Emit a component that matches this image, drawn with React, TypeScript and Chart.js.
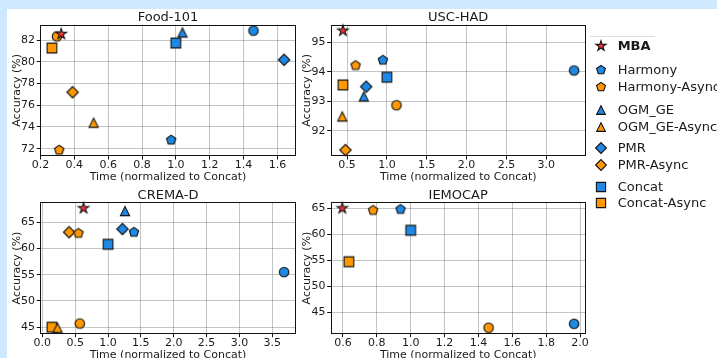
import React, { useEffect, useRef } from "react";
import { Chart, registerables } from "chart.js";

Chart.register(...registerables);

const FONT = "'DejaVu Sans', 'Liberation Sans', sans-serif";
const TEXT = "#1a1a1a";

// ---- methods (order = draw priority, first on top) ----
const methodNames = [
  "MBA",
  "Harmony",
  "Harmony-Async",
  "OGM_GE",
  "OGM_GE-Async",
  "PMR",
  "PMR-Async",
  "Concat",
  "Concat-Async",
  "Baseline",
  "Baseline-Async",
];
const methodShapes = ["star", "pentagon", "pentagon", "triangle", "triangle", "diamond", "diamond", "square", "square", "circle", "circle"];
const BLUE = "#1e88e5";
const ORANGE = "#ff9800";
const RED = "#f0363b";
const methodColors = [RED, BLUE, ORANGE, BLUE, ORANGE, BLUE, ORANGE, BLUE, ORANGE, BLUE, ORANGE];
const legendCount = 9; // first nine appear in the legend

// ---- panel titles ----
const panelTitles = ["Food-101", "USC-HAD", "CREMA-D", "IEMOCAP"];

// ---- Food-101 ----
const food101Time = [0.323, 0.972, 0.311, 1.039, 0.514, 1.639, 0.39, 1.0, 0.268, 1.458, 0.298];
const food101Acc = [82.55, 72.8, 71.88, 82.7, 74.4, 80.18, 77.2, 81.72, 81.26, 82.86, 82.33];
const food101XTicks = [0.2, 0.4, 0.6, 0.8, 1.0, 1.2, 1.4, 1.6];
const food101YTicks = [72, 74, 76, 78, 80, 82];

// ---- USC-HAD ----
const uscTime = [0.448, 0.95, 0.607, 0.71, 0.44, 0.74, 0.48, 1.0, 0.448, 3.35, 1.12];
const uscAcc = [95.4, 94.4, 94.22, 93.17, 92.49, 93.5, 91.35, 93.82, 93.56, 94.05, 92.87];
const uscXTicks = [0.5, 1.0, 1.5, 2.0, 2.5, 3.0];
const uscYTicks = [92, 93, 94, 95];

// ---- CREMA-D ----
const cremaTime = [0.627, 1.395, 0.55, 1.258, 0.232, 1.22, 0.408, 1.0, 0.146, 3.68, 0.57];
const cremaAcc = [67.66, 63.1, 62.9, 67.14, 44.9, 63.7, 63.1, 60.8, 45.0, 55.5, 45.7];
const cremaXTicks = [0.0, 0.5, 1.0, 1.5, 2.0, 2.5, 3.0, 3.5];
const cremaYTicks = [45, 50, 55, 60, 65];

// ---- IEMOCAP ----
const iemoTime = [0.596, 0.94, 0.778, null, null, null, null, 1.0, 0.635, 1.965, 1.46];
const iemoAcc = [65.0, 64.8, 64.6, null, null, null, null, 60.77, 54.73, 42.8, 42.04];
const iemoXTicks = [0.6, 0.8, 1.0, 1.2, 1.4, 1.6, 1.8, 2.0];
const iemoYTicks = [45, 50, 55, 60, 65];

const xTitle = "Time (normalized to Concat)";
const yTitle = "Accuracy (%)";

// ---- layout (root coordinates) ----
const panelLayouts = [
  { left: 0, top: 0, w: 300, h: 175, yAxisW: 33.3, titleTop: 1.4, chartBottom: 147, padRight: 11.3 },
  { left: 290, top: 0, w: 300, h: 175, yAxisW: 33.7, titleTop: 1.4, chartBottom: 147, padRight: 11.3 },
  { left: 0, top: 179, w: 300, h: 174, yAxisW: 33.3, titleTop: 0, chartBottom: 145.7, padRight: 11.3 },
  { left: 290, top: 179, w: 300, h: 174, yAxisW: 33.7, titleTop: 0, chartBottom: 145.7, padRight: 11.3 },
];
const legendY = [37, 61, 77.7, 101, 118.3, 139.3, 156, 177.7, 194.3];
const legendMarkerX = 593.7;
const legendTextX = 610.7;

type Shape = string;

function traceShape(ctx: CanvasRenderingContext2D, shape: Shape, cx: number, cy: number, k: number) {
  ctx.beginPath();
  if (shape === "circle") {
    ctx.arc(cx, cy, 4.75 * k, 0, Math.PI * 2);
  } else if (shape === "square") {
    const h = 4.85 * k;
    ctx.rect(cx - h, cy - h, 2 * h, 2 * h);
  } else if (shape === "diamond") {
    const h = 5.7 * k;
    ctx.moveTo(cx, cy - h);
    ctx.lineTo(cx + h, cy);
    ctx.lineTo(cx, cy + h);
    ctx.lineTo(cx - h, cy);
    ctx.closePath();
  } else if (shape === "triangle") {
    const h = 4.6 * k;
    ctx.moveTo(cx, cy - h);
    ctx.lineTo(cx + h, cy + h);
    ctx.lineTo(cx - h, cy + h);
    ctx.closePath();
  } else if (shape === "pentagon") {
    const R = 4.9 * k;
    for (let i = 0; i < 5; i++) {
      const a = -Math.PI / 2 + (i * 2 * Math.PI) / 5;
      const px = cx + R * Math.cos(a);
      const py = cy + R * Math.sin(a);
      if (i === 0) ctx.moveTo(px, py);
      else ctx.lineTo(px, py);
    }
    ctx.closePath();
  } else if (shape === "star") {
    const R = 5.6 * k;
    const r = R * 0.381966;
    for (let i = 0; i < 10; i++) {
      const a = -Math.PI / 2 + (i * Math.PI) / 5;
      const rr = i % 2 === 0 ? R : r;
      const px = cx + rr * Math.cos(a);
      const py = cy + rr * Math.sin(a);
      if (i === 0) ctx.moveTo(px, py);
      else ctx.lineTo(px, py);
    }
    ctx.closePath();
  }
}

function paintMarker(canvas: HTMLCanvasElement, shape: Shape, fill: string, k: number) {
  const ctx = canvas.getContext("2d")!;
  ctx.clearRect(0, 0, canvas.width, canvas.height);
  traceShape(ctx, shape, canvas.width / 2, canvas.height / 2, k);
  ctx.fillStyle = fill;
  ctx.fill();
  ctx.lineWidth = 1.1;
  ctx.lineJoin = "miter";
  ctx.strokeStyle = "#111";
  ctx.stroke();
}

function makeMarker(shape: Shape, fill: string, k: number) {
  const c = document.createElement("canvas");
  c.width = 16;
  c.height = 16;
  paintMarker(c, shape, fill, k);
  return c;
}

function paddedRange(vals: (number | null)[]) {
  const v = vals.filter((a) => a !== null) as number[];
  const lo = Math.min(...v);
  const hi = Math.max(...v);
  const m = (hi - lo) * 0.05;
  return [lo - m, hi + m];
}

const framePlugin = {
  id: "frame",
  afterDraw(chart: any) {
    const { ctx, chartArea: a } = chart;
    ctx.save();
    ctx.strokeStyle = "#111";
    ctx.lineWidth = 1;
    const l = Math.round(a.left) + 0.5;
    const t = Math.round(a.top) + 0.5;
    const r = Math.round(a.right) - 0.5;
    const b = Math.round(a.bottom) - 0.5;
    ctx.strokeRect(l, t, r - l, b - t);
    ctx.restore();
  },
};

const panelData = [
  { time: food101Time, acc: food101Acc, xTicks: food101XTicks, yTicks: food101YTicks },
  { time: uscTime, acc: uscAcc, xTicks: uscXTicks, yTicks: uscYTicks },
  { time: cremaTime, acc: cremaAcc, xTicks: cremaXTicks, yTicks: cremaYTicks },
  { time: iemoTime, acc: iemoAcc, xTicks: iemoXTicks, yTicks: iemoYTicks },
];

export default function App() {
  const canvasRefs = useRef<(HTMLCanvasElement | null)[]>([]);
  const legendRefs = useRef<(HTMLCanvasElement | null)[]>([]);

  useEffect(() => {
    document.documentElement.style.overflow = "hidden";
    document.body.style.margin = "9px 0 0 7px";
    document.body.style.background = "#cde8ff";
    document.body.style.overflow = "hidden";

    const markers = methodShapes.map((s, i) => makeMarker(s, methodColors[i], 1));
    const charts: Chart[] = [];

    panelData.forEach((p, pi) => {
      const cv = canvasRefs.current[pi];
      if (!cv) return;
      const lay = panelLayouts[pi];
      const [xmin, xmax] = paddedRange(p.time);
      const [ymin, ymax] = paddedRange(p.acc);
      const datasets = methodNames.map((name, i) => ({
        label: name,
        xAxisID: "x",
        yAxisID: "y",
        data: p.time[i] === null ? [] : [{ x: p.time[i] as number, y: p.acc[i] as number }],
        pointStyle: markers[i] as any,
        pointRadius: 5,
        pointHoverRadius: 5,
        clip: false as any,
      }));
      const gridCommon = {
        color: "rgba(120,120,120,0.55)",
        lineWidth: 0.8,
        borderDash: [1, 1.6],
        tickColor: "#111",
        tickLength: 3.5,
        tickWidth: 1,
        tickBorderDash: [],
      };
      const chart = new Chart(cv, {
        type: "scatter",
        data: { datasets },
        options: {
          animation: false,
          responsive: false,
          events: [],
          layout: { padding: { left: 0, right: lay.padRight, top: 0, bottom: 0 } },
          plugins: {
            legend: { display: false },
            tooltip: { enabled: false },
            title: { display: false },
          },
          scales: {
            x: {
              type: "linear",
              position: "bottom",
              min: xmin,
              max: xmax,
              afterBuildTicks: (s: any) => {
                s.ticks = p.xTicks.map((v) => ({ value: v }));
              },
              afterFit: (s: any) => {
                s.height = lay.h - lay.chartBottom;
              },
              ticks: {
                callback: (v: any) => Number(v).toFixed(1),
                font: { family: FONT, size: 11, lineHeight: 1.0 },
                color: TEXT,
                padding: 0,
                maxRotation: 0,
                autoSkip: false,
              },
              grid: gridCommon as any,
              border: { display: false },
              title: {
                display: true,
                text: xTitle,
                color: TEXT,
                font: { family: FONT, size: 11 },
                padding: { top: 0, bottom: 0.4 },
              },
            },
            y: {
              type: "linear",
              position: "left",
              min: ymin,
              max: ymax,
              afterBuildTicks: (s: any) => {
                s.ticks = p.yTicks.map((v) => ({ value: v }));
              },
              afterFit: (s: any) => {
                s.width = lay.yAxisW;
              },
              ticks: {
                callback: (v: any) => Number(v).toFixed(0),
                font: { family: FONT, size: 11 },
                color: TEXT,
                padding: 1.8,
                autoSkip: false,
              },
              grid: gridCommon as any,
              border: { display: false },
              title: {
                display: true,
                text: yTitle,
                color: TEXT,
                font: { family: FONT, size: 11 },
                padding: { top: 3.1, bottom: 0 },
              },
            },
            titleAxis: {
              type: "linear",
              axis: "x",
              position: "top",
              display: true,
              min: 0,
              max: 1,
              ticks: { display: false },
              grid: { display: false, drawTicks: false },
              border: { display: false },
              afterFit: (s: any) => {
                s.height = 14.3 + lay.titleTop;
              },
              title: {
                display: true,
                text: panelTitles[pi],
                color: TEXT,
                font: { family: FONT, size: 13, weight: "normal", lineHeight: 1.1 },
                padding: { top: lay.titleTop, bottom: 0 },
              },
            },
          },
        } as any,
        plugins: [framePlugin],
      });
      charts.push(chart);
    });

    legendRefs.current.forEach((c, i) => {
      if (c) paintMarker(c, methodShapes[i], methodColors[i], 0.95);
    });

    return () => {
      charts.forEach((c) => c.destroy());
    };
  }, []);

  return (
    <div
      style={{
        position: "relative",
        width: 710,
        height: 349,
        background: "#ffffff",
        overflow: "hidden",
        fontFamily: FONT,
      }}
    >
      {panelLayouts.map((l, i) => (
        <canvas
          key={i}
          ref={(el) => {
            canvasRefs.current[i] = el;
          }}
          width={l.w}
          height={l.h}
          style={{ position: "absolute", left: l.left, top: l.top, width: l.w, height: l.h }}
        />
      ))}
      <div
        style={{
          position: "absolute",
          left: 583,
          top: 27,
          width: 65,
          height: 0,
          borderTop: "1px solid #dedede",
        }}
      />
      {methodNames.slice(0, legendCount).map((name, i) => (
        <React.Fragment key={name}>
          <canvas
            ref={(el) => {
              legendRefs.current[i] = el;
            }}
            width={16}
            height={16}
            style={{ position: "absolute", left: legendMarkerX - 8, top: legendY[i] - 8, width: 16, height: 16 }}
          />
          <div
            style={{
              position: "absolute",
              left: legendTextX,
              top: legendY[i] - 8,
              height: 16,
              lineHeight: "16px",
              fontSize: 13,
              fontWeight: i === 0 ? "bold" : "normal",
              color: TEXT,
              whiteSpace: "nowrap",
            }}
          >
            {name}
          </div>
        </React.Fragment>
      ))}
    </div>
  );
}
